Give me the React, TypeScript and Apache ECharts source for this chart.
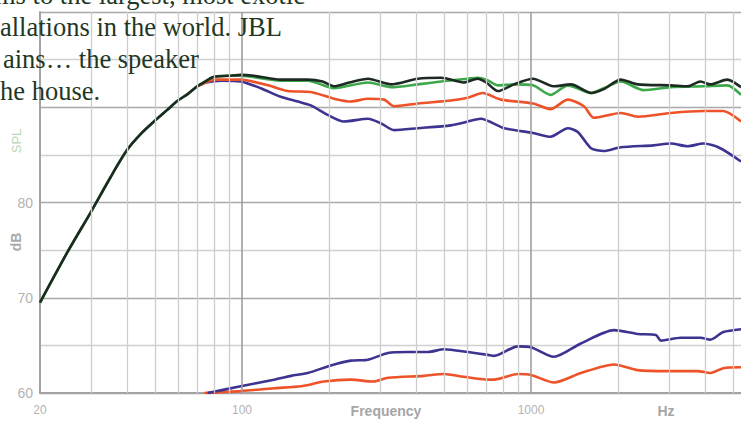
import React, { useEffect, useRef } from "react";
import * as echarts from "echarts";

// ---- data ----
const blackHz = [20, 25, 30, 35, 40, 45, 50, 55, 60, 65, 70, 75, 80, 90, 99, 110, 136, 169, 190, 208, 235, 273, 328, 406, 488, 585, 654, 700, 768, 872, 1016, 1195, 1376, 1613, 1786, 2045, 2339, 3047, 3484, 3860, 4176, 4778, 5330];
const blackDb = [69.5, 74.9, 79.0, 82.6, 85.5, 87.3, 88.6, 89.7, 90.7, 91.4, 92.2, 92.75, 93.2, 93.3, 93.4, 93.3, 92.9, 92.9, 92.7, 92.2, 92.6, 93.0, 92.4, 93.0, 93.1, 92.6, 93.0, 92.6, 91.7, 92.4, 93.0, 92.2, 92.4, 91.5, 91.9, 92.9, 92.4, 92.3, 92.2, 92.7, 92.4, 92.9, 92.1];

const greenHz = [20, 25, 30, 35, 40, 45, 50, 55, 60, 65, 70, 75, 80, 90, 99, 136, 169, 208, 273, 328, 406, 488, 605, 654, 700, 768, 872, 1016, 1168, 1342, 1613, 1786, 2045, 2452, 3047, 3949, 4778, 5330];
const greenDb = [69.5, 74.9, 79.0, 82.6, 85.5, 87.3, 88.6, 89.7, 90.7, 91.4, 92.2, 92.75, 93.2, 93.3, 93.3, 92.8, 92.8, 92.0, 92.6, 92.1, 92.4, 92.7, 93.0, 93.1, 92.9, 92.3, 92.4, 92.3, 91.3, 92.3, 91.5, 92.0, 92.7, 91.8, 92.1, 92.2, 92.3, 91.3];

const redHz = [70, 75, 80, 99, 123, 144, 173, 208, 238, 273, 310, 336, 406, 528, 605, 680, 787, 1016, 1168, 1342, 1525, 1650, 2045, 2339, 3047, 3949, 4628, 5330];
const redDb = [92.2, 92.6, 92.9, 92.9, 92.3, 91.7, 91.6, 90.9, 90.6, 90.9, 90.8, 90.1, 90.4, 90.7, 91.0, 91.5, 90.8, 90.4, 89.8, 90.8, 90.1, 88.9, 89.4, 89.0, 89.4, 89.6, 89.6, 88.5];

const blueHz = [70, 75, 85, 99, 116, 136, 156, 173, 198, 225, 273, 303, 336, 406, 528, 605, 670, 808, 1016, 1168, 1342, 1452, 1613, 1786, 2045, 2658, 3047, 3484, 3949, 4519, 5330];
const blueDb = [92.2, 92.6, 92.8, 92.7, 92.0, 91.1, 90.6, 90.2, 89.2, 88.5, 88.8, 88.3, 87.6, 87.8, 88.1, 88.5, 88.8, 87.8, 87.3, 86.9, 87.8, 87.4, 85.7, 85.4, 85.8, 86.0, 86.2, 85.9, 86.2, 85.7, 84.3];

const lowBlueHz = [76, 99, 129, 148, 169, 203, 238, 273, 320, 375, 440, 500, 605, 710, 745, 900, 1000, 1200, 1488, 1938, 2339, 2705, 2815, 3299, 3860, 4176, 4628, 5330];
const lowBlueDb = [60.0, 60.7, 61.4, 61.8, 62.1, 62.9, 63.4, 63.5, 64.2, 64.3, 64.3, 64.6, 64.3, 64.0, 63.9, 64.9, 64.8, 63.8, 65.2, 66.6, 66.2, 66.1, 65.5, 65.8, 65.8, 65.6, 66.4, 66.7];

const lowRedHz = [74, 99, 129, 160, 192, 238, 285, 320, 426, 500, 585, 710, 745, 900, 1000, 1200, 1488, 1938, 2339, 2975, 3767, 4176, 4628, 5330];
const lowRedDb = [60.0, 60.2, 60.5, 60.7, 61.2, 61.4, 61.2, 61.6, 61.8, 62.0, 61.7, 61.4, 61.4, 62.0, 61.9, 61.1, 62.1, 63.0, 62.4, 62.3, 62.3, 62.1, 62.6, 62.7];

const minorGridHz = [30, 40, 50, 60, 70, 80, 90, 200, 300, 400, 500, 600, 700, 800, 900, 2000, 3000, 4000, 5000];
const majorGridHz = [100, 1000];
const xLabels = [20, 100, 1000];
const yLabels = [60, 70, 80];

const textLines = [
  "ms to the largest, most exotic",
  "allations in the world. JBL",
  "ains\u2026 the speaker",
  "he house.",
];

const zip = (xs: number[], ys: number[]) => xs.map((x, i) => [x, ys[i]]);

export default function App() {
  const ref = useRef<HTMLDivElement>(null);
  useEffect(() => {
    if (!ref.current) return;
    const chart = echarts.init(ref.current, null, { renderer: "svg" });
    const curve = (name: string, data: number[][], color: string) => ({
      name,
      type: "line",
      data,
      smooth: 0.25,
      showSymbol: false,
      symbol: "none",
      lineStyle: { color, width: 2.6 },
      z: 3,
    });
    const textX = [-5, 0, 3, 0];
    const textBase = [4, 36, 68, 100];
    const fs = 26.5;
    chart.setOption({
      animation: false,
      backgroundColor: "#ffffff",
      grid: { left: 40, right: 0, top: 12, bottom: 28, containLabel: false },
      xAxis: {
        type: "log",
        logBase: 10,
        min: 20,
        max: 5330,
        axisLine: { show: true, lineStyle: { color: "#a3a3a3", width: 2 } },
        axisTick: { show: false },
        splitLine: { show: false },
        axisLabel: {
          margin: 11,
          color: "#b3b3b3",
          fontSize: 12,
          fontFamily: "Liberation Sans",
          showMaxLabel: false,
          formatter: (v: number) => {
            const r = Math.round(v);
            return xLabels.includes(r) ? String(r) : "";
          },
        },
      },
      yAxis: {
        type: "value",
        min: 60,
        max: 100,
        interval: 5,
        axisLine: { show: true, lineStyle: { color: "#a3a3a3", width: 2 } },
        axisTick: { show: false },
        axisLabel: {
          margin: 7,
          color: "#b3b3b3",
          fontSize: 14,
          fontFamily: "Liberation Sans",
          formatter: (v: number) => (yLabels.includes(v) ? String(v) : ""),
        },
        splitLine: {
          show: true,
          lineStyle: { color: ["#a9a9a9", "#d0d0d0"], width: 1.4 },
        },
      },
      series: [
        {
          name: "grid",
          type: "line",
          data: [[100, 60]],
          showSymbol: false,
          symbol: "none",
          lineStyle: { opacity: 0 },
          z: 1,
          markLine: {
            silent: true,
            symbol: ["none", "none"],
            label: { show: false },
            data: [
              ...minorGridHz.map((f) => ({ xAxis: f, lineStyle: { color: "#cdcdcd", width: 1.3, type: "solid" } })),
              ...majorGridHz.map((f) => ({ xAxis: f, lineStyle: { color: "#9f9f9f", width: 1.6, type: "solid" } })),
            ],
          },
        },
        curve("lowRed", zip(lowRedHz, lowRedDb), "#ee5228"),
        curve("lowBlue", zip(lowBlueHz, lowBlueDb), "#3c3490"),
        curve("blue", zip(blueHz, blueDb), "#3c3490"),
        curve("red", zip(redHz, redDb), "#ee5228"),
        curve("green", zip(greenHz, greenDb), "#3ba84a"),
        curve("black", zip(blackHz, blackDb), "#1d2a21"),
      ],
      graphic: [
        ...textLines.map((t, i) => ({
          type: "text",
          x: textX[i],
          y: textBase[i] - 0.3375 * fs,
          z: 10,
          style: {
            text: t,
            fill: "#1f3826",
            font: `${fs}px 'Liberation Serif', serif`,
            verticalAlign: "middle",
            align: "left",
          },
        })),
        {
          type: "text",
          x: 16,
          y: 141,
          rotation: Math.PI / 2,
          style: { text: "SPL", fill: "#b9d8b9", font: "13px 'Liberation Sans', sans-serif", align: "center", verticalAlign: "middle" },
        },
        {
          type: "text",
          x: 16,
          y: 242,
          rotation: Math.PI / 2,
          style: { text: "dB", fill: "#a9a9a9", font: "bold 14px 'Liberation Sans', sans-serif", align: "center", verticalAlign: "middle" },
        },
        {
          type: "text",
          x: 386,
          y: 411,
          style: { text: "Frequency", fill: "#a6a6a6", font: "bold 14px 'Liberation Sans', sans-serif", align: "center", verticalAlign: "middle" },
        },
        {
          type: "text",
          x: 666,
          y: 411,
          style: { text: "Hz", fill: "#a6a6a6", font: "bold 14px 'Liberation Sans', sans-serif", align: "center", verticalAlign: "middle" },
        },
      ],
    });
    return () => chart.dispose();
  }, []);
  return (
    <div
      ref={ref}
      style={{ position: "absolute", left: 0, top: 0, width: 741, height: 421, background: "#fff" }}
    />
  );
}
